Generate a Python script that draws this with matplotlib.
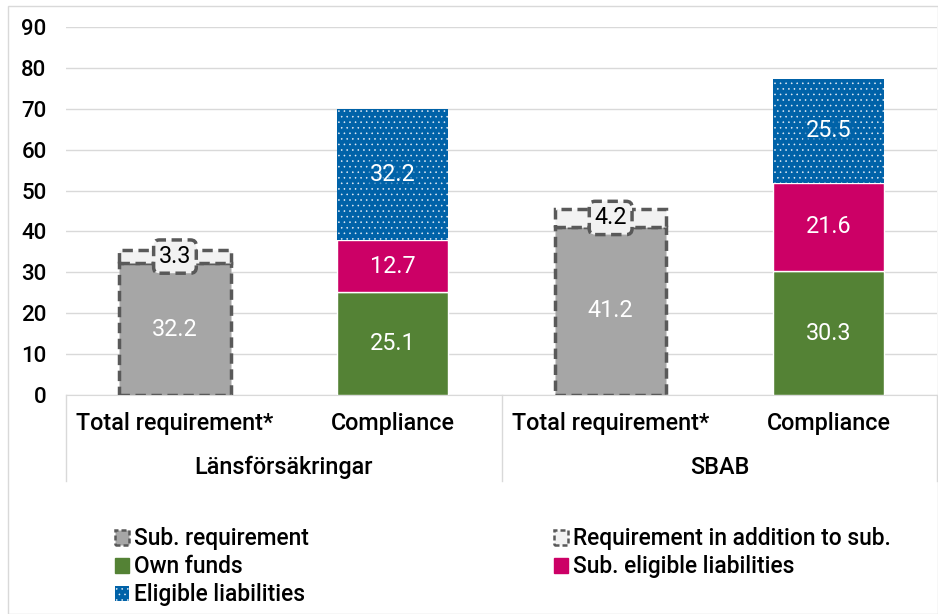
import matplotlib
matplotlib.use("Agg")
import matplotlib.pyplot as plt
from matplotlib.patches import Patch, Rectangle
import numpy as np

plt.rcParams['font.family'] = ['Roboto', 'DejaVu Sans']
plt.rcParams['hatch.linewidth'] = 0.4

categories = ["Total requirement*", "Compliance", "Total requirement*", "Compliance"]
groups = ["Länsförsäkringar", "SBAB"]

sub_requirement = [32.2, 0, 41.2, 0]
req_addition = [3.3, 0, 4.2, 0]
own_funds = [0, 25.1, 0, 30.3]
sub_eligible = [0, 12.7, 0, 21.6]
eligible = [0, 32.2, 0, 25.5]

yticks = [0, 10, 20, 30, 40, 50, 60, 70, 80, 90]

c_gray = "#A6A6A6"
c_light = "#F2F2F2"
c_edge = "#595959"
c_green = "#548235"
c_pink = "#CC0066"
c_blue = "#0062A8"

LBL = 16.8
TXT = 16.8
LEG = 16.4

fig = plt.figure(figsize=(9.38, 6.14), dpi=100)
fig.patches.append(Rectangle((0.008, 0.0), 0.992, 0.99, transform=fig.transFigure,
                             fill=False, edgecolor="#D9D9D9", linewidth=1))
ax = fig.add_axes([0.0704, 0.3567, 0.929, 0.5993])

x = np.arange(len(categories))
w = 0.51
dash_bar = (0, (3, 1.6))

for i in x:
    if sub_requirement[i] > 0:
        ax.bar(i, sub_requirement[i], w, color=c_gray, edgecolor=c_edge,
               linestyle=dash_bar, linewidth=2.5, zorder=3)
        ax.bar(i, req_addition[i], w, bottom=sub_requirement[i], color=c_light,
               edgecolor=c_edge, linestyle=dash_bar, linewidth=2.5, zorder=3)
        ax.text(i, sub_requirement[i] / 2, f"{sub_requirement[i]:.1f}", ha="center",
                va="center", color="white", fontsize=LBL, zorder=5)
        ax.text(i, sub_requirement[i] + req_addition[i] / 2, f"{req_addition[i]:.1f}",
                ha="center", va="center", color="black", fontsize=LBL, zorder=6,
                bbox=dict(boxstyle="round,pad=0.22,rounding_size=0.25", facecolor=c_light,
                          edgecolor=c_edge, linestyle=dash_bar, linewidth=2.5))
    else:
        ax.bar(i, own_funds[i], w, color=c_green, edgecolor="white", linewidth=1, zorder=3)
        ax.text(i, own_funds[i] / 2, f"{own_funds[i]:.1f}", ha="center", va="center",
                color="white", fontsize=LBL, zorder=5)
        b0 = own_funds[i]
        ax.bar(i, sub_eligible[i], w, bottom=b0, color=c_pink, edgecolor="white",
               linewidth=1, zorder=3)
        ax.text(i, b0 + sub_eligible[i] / 2, f"{sub_eligible[i]:.1f}", ha="center",
                va="center", color="white", fontsize=LBL, zorder=5)
        b0 += sub_eligible[i]
        ax.bar(i, eligible[i], w, bottom=b0, color=c_blue, edgecolor="#E8EEF6",
               linewidth=0, hatch="...", zorder=3)
        ax.text(i, b0 + eligible[i] / 2, f"{eligible[i]:.1f}", ha="center",
                va="center", color="white", fontsize=LBL, zorder=5,
                bbox=dict(boxstyle="square,pad=0.1", facecolor=c_blue, edgecolor="none",
                          alpha=0.6))

ax.set_xlim(-0.5, 3.5)
ax.set_ylim(0, 90)
ax.set_yticks(yticks)
ax.set_yticklabels([str(v) for v in yticks], fontsize=16, fontweight=500)
ax.yaxis.grid(True, color="#D9D9D9", linewidth=1, zorder=0)
ax.set_axisbelow(True)
for s in ["top", "right", "left"]:
    ax.spines[s].set_visible(False)
ax.spines["bottom"].set_color("#D9D9D9")
ax.tick_params(axis="y", length=0, pad=14)
ax.tick_params(axis="x", length=0)
ax.set_xticks([])

for i, c in enumerate(categories):
    ax.text(i, -7, c, ha="center", va="center", fontsize=TXT, fontweight=500,
            clip_on=False)
for g, name in enumerate(groups):
    ax.text(2 * g + 0.5, -17.8, name, ha="center", va="center", fontsize=TXT,
            fontweight=500, clip_on=False)
for xb in [-0.5, 1.5, 3.5]:
    ax.plot([xb, xb], [0, -21], color="#D9D9D9", linewidth=1, clip_on=False)

dash = (0, (2, 1.2))
h_sub = Patch(facecolor=c_gray, edgecolor=c_edge, linestyle=dash, linewidth=1.8,
              label="Sub. requirement")
h_add = Patch(facecolor=c_light, edgecolor=c_edge, linestyle=dash, linewidth=1.8,
              label="Requirement in addition to sub.")
h_own = Patch(facecolor=c_green, edgecolor=c_green, label="Own funds")
h_sel = Patch(facecolor=c_pink, edgecolor=c_pink, label="Sub. eligible liabilities")
h_el = Patch(facecolor=c_blue, edgecolor="#E8EEF6", linewidth=0, hatch="...",
             label="Eligible liabilities")

leg_kw = dict(frameon=False, prop=dict(size=LEG, weight=500), handlelength=0.62,
              handleheight=0.62, handletextpad=0.2, labelspacing=0.22, borderaxespad=0,
              borderpad=0)
fig.legend(handles=[h_sub, h_own, h_el], loc="upper left",
           bbox_to_anchor=(0.123, 0.141), **leg_kw)
fig.legend(handles=[h_add, h_sel], loc="upper left",
           bbox_to_anchor=(0.591, 0.141), **leg_kw)

fig.savefig("out.png", dpi=100)
